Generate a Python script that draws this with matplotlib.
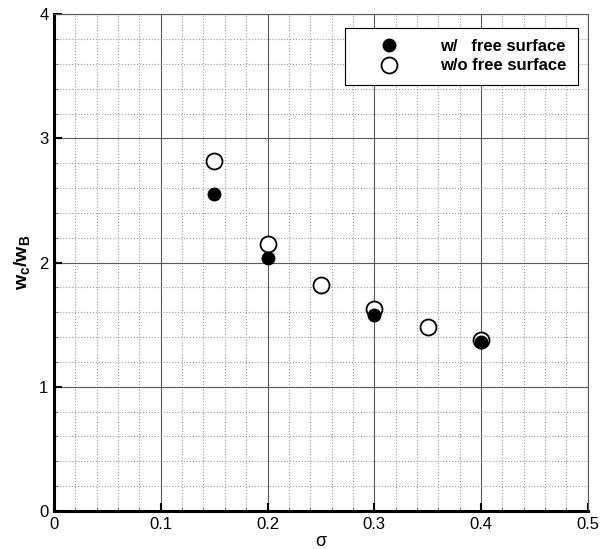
import matplotlib
matplotlib.use('Agg')
import matplotlib.pyplot as plt
from matplotlib.ticker import MultipleLocator

plt.rcParams['font.family'] = ['Liberation Sans', 'DejaVu Sans']
plt.rcParams['mathtext.fontset'] = 'custom'
plt.rcParams['mathtext.rm'] = 'Liberation Sans'
plt.rcParams['mathtext.it'] = 'Liberation Sans:italic'
plt.rcParams['mathtext.bf'] = 'Liberation Sans:bold'

# w/ free surface
sigma_fs = [0.15, 0.2, 0.3, 0.4]
ratio_fs = [2.55, 2.04, 1.58, 1.36]
# w/o free surface
sigma_nofs = [0.15, 0.2, 0.25, 0.3, 0.35, 0.4]
ratio_nofs = [2.82, 2.15, 1.82, 1.63, 1.48, 1.38]

fig = plt.figure(figsize=(6.01, 5.49), dpi=100)
ax = fig.add_axes([0.0899, 0.0692, 0.888, 0.905])

ax.plot(sigma_fs, ratio_fs, 'o', color='black', markersize=9, label='w/   free surface', zorder=4)
ax.plot(sigma_nofs, ratio_nofs, 'o', markerfacecolor='white', markeredgecolor='black',
        markeredgewidth=1.3, markersize=11.5, label='w/o free surface', zorder=3)

ax.set_xlim(0, 0.5)
ax.set_ylim(0, 4)
ax.xaxis.set_major_locator(MultipleLocator(0.1))
ax.xaxis.set_minor_locator(MultipleLocator(0.02))
ax.yaxis.set_major_locator(MultipleLocator(1))
ax.yaxis.set_minor_locator(MultipleLocator(0.2))
ax.set_xticks([0, 0.1, 0.2, 0.3, 0.4, 0.5])
ax.set_xticklabels(['0', '0.1', '0.2', '0.3', '0.4', '0.5'])

ax.grid(which='major', color='0.35', linestyle='-', linewidth=0.8)
ax.grid(which='minor', color='0.6', linestyle=':', linewidth=0.8)
ax.set_axisbelow(True)

for s in ['left', 'bottom']:
    ax.spines[s].set_linewidth(2.2)
    ax.spines[s].set_color('black')
for s in ['top', 'right']:
    ax.spines[s].set_linewidth(0.8)
    ax.spines[s].set_color('0.35')

ax.tick_params(which='major', direction='in', length=6, width=1.5, labelsize=12, pad=4)
ax.tick_params(which='minor', direction='in', length=3, width=0.8, color='0.5')

ax.set_xlabel('σ', fontsize=13, labelpad=1)
ax.set_ylabel(r'$\mathbf{w_c/w_B}$', fontsize=14, labelpad=5)

leg = ax.legend(loc='upper right', bbox_to_anchor=(0.982, 0.973),
                prop={'weight': 'bold', 'size': 12}, fancybox=False, framealpha=1,
                edgecolor='black', borderpad=0.7, handletextpad=1.1, borderaxespad=0,
                labelspacing=0.25, handlelength=3.9)
leg.get_frame().set_linewidth(0.8)

fig.savefig('out.png', dpi=100)
